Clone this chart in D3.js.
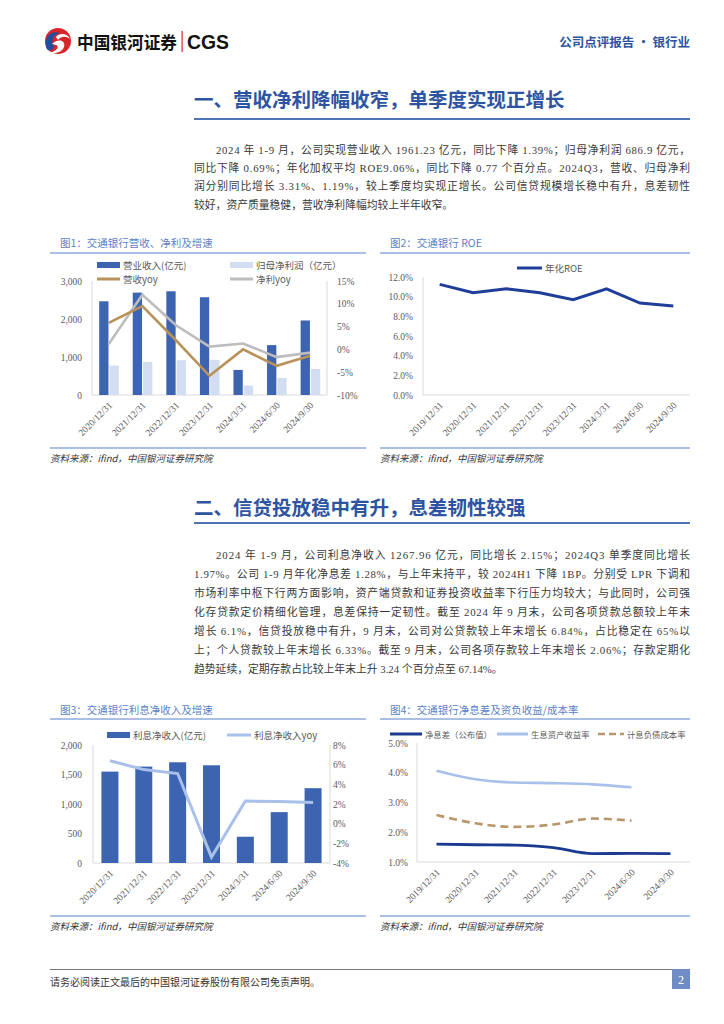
<!DOCTYPE html>
<html><head><meta charset="utf-8">
<script src="https://cdn.jsdelivr.net/npm/d3@7"></script>
<style>
html,body{margin:0;padding:0;background:#fff;}
svg{display:block;}
</style>
</head><body>
<svg id="page" width="724" height="1024"></svg>
<script>
// ---------- DATA ----------
const cats1 = ["2020/12/31","2021/12/31","2022/12/31","2023/12/31","2024/3/31","2024/6/30","2024/9/30"];
const revenue = [2466, 2694, 2730, 2573, 660, 1313, 1961];
const netProfit = [775, 870, 915, 925, 248, 450, 687];
const revYoy = [5.8, 9.5, 2.0, -5.8, 0.0, -3.6, -1.4];
const npYoy = [1.2, 12.0, 5.3, 0.6, 1.3, -1.7, -0.7];
const ticksL1 = [0, 1000, 2000, 3000];
const ticksR1 = [-10, -5, 0, 5, 10, 15];

const cats2 = ["2019/12/31","2020/12/31","2021/12/31","2022/12/31","2023/12/31","2024/3/31","2024/6/30","2024/9/30"];
const roe = [11.25, 10.4, 10.8, 10.4, 9.7, 10.8, 9.35, 9.06];
const ticks2 = [0, 2, 4, 6, 8, 10, 12];

const cats3 = ["2020/12/31","2021/12/31","2022/12/31","2023/12/31","2024/3/31","2024/6/30","2024/9/30"];
const nii = [1549, 1634, 1707, 1656, 445, 862, 1268];
const niiYoy = [6.4, 5.5, 5.1, -3.4, 2.3, 2.25, 2.15];
const ticksL3 = [0, 500, 1000, 1500, 2000];
const ticksR3 = [-4, -2, 0, 2, 4, 6, 8];

const cats4 = ["2019/12/31","2020/12/31","2021/12/31","2022/12/31","2023/12/31","2024/6/30","2024/9/30"];
const nim = [1.60, 1.58, 1.57, 1.48, 1.28, 1.29, 1.28];
const assetYield = [4.07, 3.78, 3.67, 3.65, 3.61, 3.51, null];
const liabCost = [2.58, 2.30, 2.18, 2.26, 2.46, 2.39, null];
const ticks4 = [1, 2, 3, 4, 5];

const para1 = [
 "2024 年 1-9 月，公司实现营业收入 1961.23 亿元，同比下降 1.39%；归母净利润 686.9 亿元，",
 "同比下降 0.69%；年化加权平均 ROE9.06%，同比下降 0.77 个百分点。2024Q3，营收、归母净利",
 "润分别同比增长 3.31%、1.19%，较上季度均实现正增长。公司信贷规模增长稳中有升，息差韧性",
 "较好，资产质量稳健，营收净利降幅均较上半年收窄。"
];
const para2 = [
 "2024 年 1-9 月，公司利息净收入 1267.96 亿元，同比增长 2.15%；2024Q3 单季度同比增长",
 "1.97%。公司 1-9 月年化净息差 1.28%，与上年末持平，较 2024H1 下降 1BP。分别受 LPR 下调和",
 "市场利率中枢下行两方面影响，资产端贷款和证券投资收益率下行压力均较大；与此同时，公司强",
 "化存贷款定价精细化管理，息差保持一定韧性。截至 2024 年 9 月末，公司各项贷款总额较上年末",
 "增长 6.1%，信贷投放稳中有升，9 月末，公司对公贷款较上年末增长 6.84%，占比稳定在 65%以",
 "上；个人贷款较上年末增长 6.33%。截至 9 月末，公司各项存款较上年末增长 2.06%；存款定期化",
 "趋势延续，定期存款占比较上年末上升 3.24 个百分点至 67.14%。"
];

// ---------- STYLE ----------
const SERIF = "'Liberation Serif','DejaVu Serif','Noto Sans CJK SC',serif";
const CJK = "'Noto Sans CJK SC','Noto Sans',sans-serif";
const TITLE_BLUE = "#2e54a1";
const CHART_TITLE = "#5a7fc6";
const RULE = "#8eaadb";
const AXIS = "#d9d9d9";
const TICK = "#595959";

const svg = d3.select("#page");
svg.append("rect").attr("width",724).attr("height",1024).attr("fill","#fff");

// ---------- HEADER ----------
const logo = svg.append("g");
logo.append("circle").attr("cx",58).attr("cy",41).attr("r",13).attr("fill","#d7262b");
logo.append("path").attr("d","M46,47 C44,36 52,30 60,33 C54,34 50,40 54,47 C51,52 47,51 46,47 Z").attr("fill","#1f4e9c");
logo.append("path").attr("d","M52,44 C58,38 66,40 64,47 C62,52 56,54 50,53 C57,51 60,46 56,45 Z").attr("fill","#fff");
logo.append("path").attr("d","M56,37 C60,32 68,34 70,39 C66,36 61,36 58,40 Z").attr("fill","#fff");
svg.append("text").attr("x",77).attr("y",48.5).attr("font-family",CJK).attr("font-weight","bold")
  .attr("font-size",17.5).attr("fill","#111").attr("textLength",100).attr("lengthAdjust","spacingAndGlyphs").text("中国银河证券");
svg.append("rect").attr("x",181.5).attr("y",31).attr("width",1.2).attr("height",21).attr("fill","#d7262b");
svg.append("text").attr("x",187).attr("y",49).attr("font-family","'Liberation Sans',Arial,sans-serif").attr("font-weight","bold")
  .attr("font-size",20).attr("fill","#111").attr("textLength",42).attr("lengthAdjust","spacingAndGlyphs").text("CGS");
svg.append("text").attr("x",690).attr("y",47).attr("text-anchor","end").attr("font-family",CJK).attr("font-weight","bold")
  .attr("font-size",12.5).attr("fill",TITLE_BLUE).text("公司点评报告 · 银行业");

// ---------- SECTIONS ----------
function section(title, y, lineY){
  svg.append("text").attr("x",194).attr("y",y).attr("font-family",CJK).attr("font-weight","bold")
    .attr("font-size",19.5).attr("fill",TITLE_BLUE).text(title);
  svg.append("line").attr("x1",194).attr("x2",690).attr("y1",lineY).attr("y2",lineY)
    .attr("stroke","#4f74b8").attr("stroke-width",2);
}
function paragraph(lines, y0, dy){
  lines.forEach((t,i)=>{
    const x = i===0 ? 216 : 194;
    const last = i===lines.length-1;
    const el = svg.append("text").attr("x",x).attr("y",y0+i*dy).attr("font-family",SERIF)
      .attr("font-size",10.8).attr("fill","#3a3a3a").text(t);
    if(!last) el.attr("textLength",690-x).attr("lengthAdjust","spacing");
  });
}
section("一、营收净利降幅收窄，单季度实现正增长", 107, 119);
paragraph(para1, 154, 18.2);
section("二、信贷投放稳中有升，息差韧性较强", 515, 523);
paragraph(para2, 559, 19);

// ---------- CHART HELPERS ----------
function panel(title, x1, x2, titleY, ruleTop, ruleBottom, source){
  svg.append("text").attr("x",x1+10).attr("y",titleY).attr("font-family",CJK).attr("font-size",10.5)
    .attr("fill",CHART_TITLE).text(title);
  [ruleTop, ruleBottom].forEach(y=>svg.append("line").attr("x1",x1).attr("x2",x2).attr("y1",y).attr("y2",y)
    .attr("stroke",RULE).attr("stroke-width",1.3));
  svg.append("text").attr("x",x1).attr("y",ruleBottom+14).attr("font-family",CJK).attr("font-size",9.5)
    .attr("font-style","italic").attr("fill","#333").text(source);
}
function leftAxis(g, scale, ticks, x, fmt){
  const ax = d3.axisLeft(scale).tickValues(ticks).tickFormat(fmt).tickSize(0).tickPadding(0);
  const a = g.append("g").attr("transform",`translate(${x},0)`).call(ax);
  a.select(".domain").remove();
  a.selectAll("text").attr("font-family",SERIF).attr("font-size",9.5).attr("fill",TICK);
  return a;
}
function rightAxis(g, scale, ticks, x, fmt){
  const ax = d3.axisRight(scale).tickValues(ticks).tickFormat(fmt).tickSize(0).tickPadding(0);
  const a = g.append("g").attr("transform",`translate(${x},0)`).call(ax);
  a.select(".domain").remove();
  a.selectAll("text").attr("font-family",SERIF).attr("font-size",9.5).attr("fill",TICK);
  return a;
}
function xLabels(g, xs, cats, yAxis, dx){
  const ax = d3.axisBottom(xs).tickSize(0).tickPadding(0);
  const a = g.append("g").attr("transform",`translate(0,${yAxis})`).call(ax);
  a.select(".domain").remove();
  a.selectAll("text").attr("font-family",SERIF).attr("font-size",9.5).attr("fill",TICK)
    .attr("text-anchor","end").attr("dy",0)
    .attr("transform",`translate(${dx},${11}) rotate(-45)`);
}
function axisLine(g,x1,y1,x2,y2){
  g.append("line").attr("x1",x1).attr("x2",x2).attr("y1",y1).attr("y2",y2).attr("stroke",AXIS).attr("stroke-width",1);
}
function legendRect(g,x,y,color,label){
  g.append("rect").attr("x",x).attr("y",y-3).attr("width",23).attr("height",6).attr("fill",color);
  g.append("text").attr("x",x+26).attr("y",y+3.5).attr("font-family",CJK).attr("font-size",9.5).attr("fill",TICK).text(label);
}
function legendLine(g,x,y,w,color,label,dash,sw,fs){
  g.append("line").attr("x1",x).attr("x2",x+w).attr("y1",y).attr("y2",y).attr("stroke",color)
    .attr("stroke-width",sw||3).attr("stroke-dasharray",dash||null);
  g.append("text").attr("x",x+w+3).attr("y",y+3.5).attr("font-family",CJK).attr("font-size",fs||9.5).attr("fill",TICK).text(label);
}

// ---------- CHART 1 ----------
(function(){
  panel("图1：交通银行营收、净利及增速", 50, 366, 247, 253, 448, "资料来源：ifind，中国银河证券研究院");
  const g = svg.append("g");
  const x = d3.scaleBand().domain(cats1).range([92,327]);
  const yL = d3.scaleLinear().domain([0,3000]).range([395,281]);
  const yR = d3.scaleLinear().domain([-10,15]).range([395,281]);
  axisLine(g,92,281,92,395); axisLine(g,327,281,327,395); axisLine(g,92,395,327,395);
  const bw = 9.3;
  g.selectAll(".rev").data(cats1).join("rect").attr("x",d=>x(d)+x.bandwidth()/2-bw-0.3)
    .attr("y",(d,i)=>yL(revenue[i])).attr("width",bw).attr("height",(d,i)=>yL(0)-yL(revenue[i])).attr("fill","#3d64b0");
  g.selectAll(".np").data(cats1).join("rect").attr("x",d=>x(d)+x.bandwidth()/2+0.7)
    .attr("y",(d,i)=>yL(netProfit[i])).attr("width",bw).attr("height",(d,i)=>yL(0)-yL(netProfit[i])).attr("fill","#d2ddf2");
  const cx = d=>x(d)+x.bandwidth()/2;
  const lineG = d3.line().x((d,i)=>cx(cats1[i])).y(d=>yR(d));
  g.append("path").attr("d",lineG(npYoy)).attr("fill","none").attr("stroke","#bdbdbd").attr("stroke-width",2.6);
  g.append("path").attr("d",lineG(revYoy)).attr("fill","none").attr("stroke","#b8925a").attr("stroke-width",2.6);
  leftAxis(g,yL,ticksL1,82,d3.format(","));
  rightAxis(g,yR,ticksR1,337,d=>d+"%");
  xLabels(g,x,cats1,395,4);
  legendRect(g,97,265,"#3d64b0","营业收入(亿元)");
  legendRect(g,230,265,"#d2ddf2","归母净利润（亿元）");
  legendLine(g,97,279,23,"#b8925a","营收yoy");
  legendLine(g,230,279,23,"#bdbdbd","净利yoy");
})();

// ---------- CHART 2 ----------
(function(){
  panel("图2：交通银行 ROE", 380, 690, 247, 253, 448, "资料来源：ifind，中国银河证券研究院");
  const g = svg.append("g");
  const x = d3.scaleBand().domain(cats2).range([423,690]);
  const y = d3.scaleLinear().domain([0,12]).range([395,277]);
  axisLine(g,423,277,423,395); axisLine(g,423,395,690,395);
  const cx = d=>x(d)+x.bandwidth()/2;
  g.append("path").attr("d",d3.line().x((d,i)=>cx(cats2[i])).y(d=>y(d))(roe))
    .attr("fill","none").attr("stroke","#1f3d99").attr("stroke-width",3);
  leftAxis(g,y,ticks2,413,d=>d.toFixed(1)+"%");
  xLabels(g,x,cats2,395,4);
  legendLine(g,517,268,25,"#1f3d99","年化ROE");
})();

// ---------- CHART 3 ----------
(function(){
  panel("图3：交通银行利息净收入及增速", 50, 366, 714, 719, 916, "资料来源：ifind，中国银河证券研究院");
  const g = svg.append("g");
  const x = d3.scaleBand().domain(cats3).range([93,330]);
  const yL = d3.scaleLinear().domain([0,2000]).range([863,745]);
  const yR = d3.scaleLinear().domain([-4,8]).range([863,745]);
  axisLine(g,93,745,93,863); axisLine(g,330,745,330,863); axisLine(g,93,863,330,863);
  const bw = 17;
  g.selectAll(".nii").data(cats3).join("rect").attr("x",d=>x(d)+x.bandwidth()/2-bw/2)
    .attr("y",(d,i)=>yL(nii[i])).attr("width",bw).attr("height",(d,i)=>yL(0)-yL(nii[i])).attr("fill","#3d64b0");
  const cx = d=>x(d)+x.bandwidth()/2;
  g.append("path").attr("d",d3.line().x((d,i)=>cx(cats3[i])).y(d=>yR(d))(niiYoy))
    .attr("fill","none").attr("stroke","#a9c0ea").attr("stroke-width",3);
  leftAxis(g,yL,ticksL3,82,d3.format(","));
  rightAxis(g,yR,ticksR3,333,d=>d+"%");
  xLabels(g,x,cats3,863,4);
  legendRect(g,107,735,"#3d64b0","利息净收入(亿元)");
  legendLine(g,227,735,24,"#a9c0ea","利息净收入yoy");
})();

// ---------- CHART 4 ----------
(function(){
  panel("图4：交通银行净息差及资负收益/成本率", 380, 690, 714, 719, 916, "资料来源：ifind，中国银河证券研究院");
  const g = svg.append("g");
  const x = d3.scaleBand().domain(cats4).range([417,690]);
  const y = d3.scaleLinear().domain([1,5]).range([862,743]);
  axisLine(g,417,743,417,862); axisLine(g,417,862,690,862);
  const cx = d=>x(d)+x.bandwidth()/2;
  const ln = d3.line().defined(d=>d!=null).curve(d3.curveMonotoneX).x((d,i)=>cx(cats4[i])).y(d=>y(d));
  g.append("path").attr("d",ln(assetYield)).attr("fill","none").attr("stroke","#a9c0ea").attr("stroke-width",2.6);
  g.append("path").attr("d",ln(liabCost)).attr("fill","none").attr("stroke","#b9966a").attr("stroke-width",2.6).attr("stroke-dasharray","8,5");
  g.append("path").attr("d",ln(nim)).attr("fill","none").attr("stroke","#1a3a8f").attr("stroke-width",2.8);
  leftAxis(g,y,ticks4,408,d=>d.toFixed(1)+"%");
  xLabels(g,x,cats4,862,4);
  legendLine(g,390,734,32,"#1a3a8f","净息差（公布值）",null,3,8.4);
  legendLine(g,497,734,31,"#a9c0ea","生息资产收益率",null,3,8.4);
  legendLine(g,598,734,26,"#b9966a","计息负债成本率","7,4",2.6,8.4);
})();

// ---------- FOOTER ----------
svg.append("line").attr("x1",50).attr("x2",672).attr("y1",969.5).attr("y2",969.5).attr("stroke","#777").attr("stroke-width",1);
svg.append("text").attr("x",50).attr("y",986).attr("font-family",CJK).attr("font-size",10).attr("fill","#333")
  .text("请务必阅读正文最后的中国银河证券股份有限公司免责声明。");
svg.append("rect").attr("x",672).attr("y",969).attr("width",18).attr("height",20).attr("fill","#6f8cc4");
svg.append("text").attr("x",681).attr("y",984).attr("text-anchor","middle").attr("font-family",SERIF)
  .attr("font-size",12).attr("fill","#fff").text("2");
</script>
</body></html>
